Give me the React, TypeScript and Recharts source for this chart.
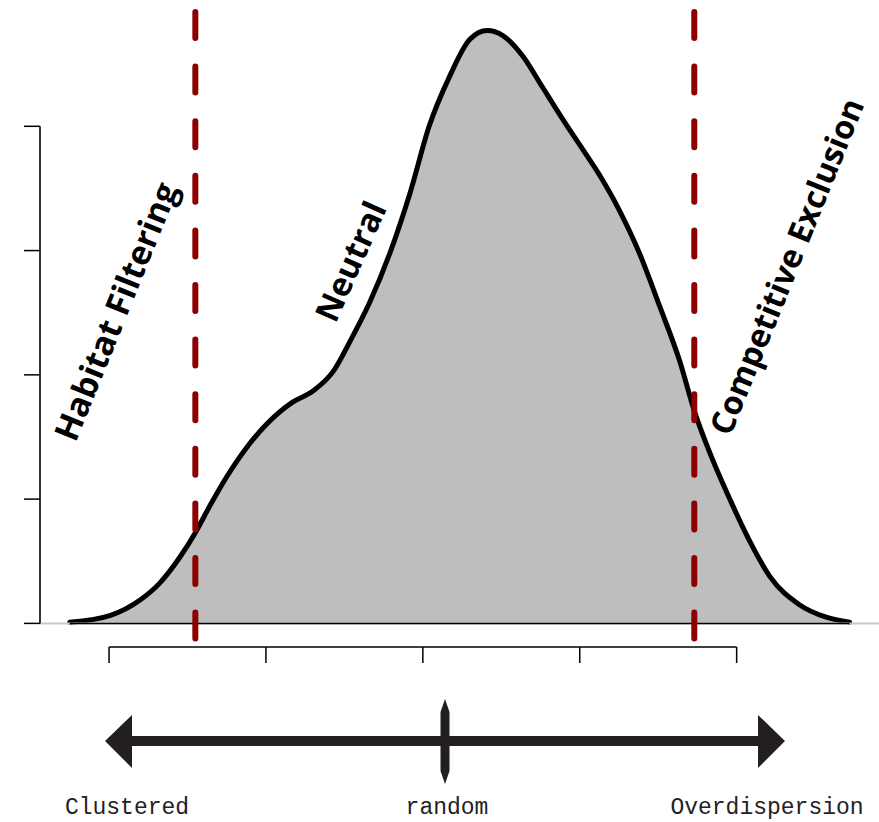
import React from 'react';
import { ComposedChart, Area, XAxis, YAxis, ReferenceLine } from 'recharts';

// Density estimate (x in axis units, y in density units)
const densityX = [-2.25, -1.99, -1.80, -1.68, -1.55, -1.45, -1.36, -1.25, -1.12, -0.99, -0.83, -0.70, -0.57, -0.46, -0.34, -0.21, -0.08, 0.04, 0.17, 0.30, 0.41, 0.51, 0.64, 0.76, 0.89, 1.00, 1.13, 1.25, 1.38, 1.51, 1.64, 1.73, 1.83, 1.96, 2.08, 2.21, 2.40, 2.57, 2.72];
const densityY = [0.01, 0.065, 0.19, 0.32, 0.53, 0.73, 0.94, 1.18, 1.42, 1.61, 1.78, 1.87, 2.03, 2.28, 2.58, 2.98, 3.47, 4.00, 4.40, 4.70, 4.77, 4.73, 4.56, 4.32, 4.06, 3.85, 3.60, 3.33, 2.98, 2.55, 2.10, 1.71, 1.37, 0.99, 0.67, 0.38, 0.15, 0.05, 0.01];

const xTicks = [-2, -1, 0, 1, 2];
const yTicks = [0, 1, 2, 3, 4];
const thresholds = [-1.45, 1.73];
const xDomain: [number, number] = [-2.44, 2.92];
const yDomain: [number, number] = [-0.19, 4.96];

const regionLabels = ['Habitat Filtering', 'Neutral', 'Competitive Exclusion'];
const gradientLabels = ['Clustered', 'random', 'Overdispersion'];

const data = densityX.map((x, i) => ({ x, y: densityY[i] }));

const labelFont = "'Open Sans', 'DejaVu Sans', sans-serif";
const monoFont = "'Liberation Mono', 'DejaVu Sans Mono', monospace";
const blank = () => '';

export default function App() {
  return (
    <div style={{ position: 'absolute', left: 0, top: 0, width: 879, height: 822, overflow: 'hidden', background: '#fff' }}>
      <ComposedChart width={881} height={822} data={data} margin={{ top: 7, right: 0, bottom: 145, left: 0 }}>
        <XAxis
          type="number"
          dataKey="x"
          domain={xDomain}
          ticks={xTicks}
          allowDataOverflow
          tickFormatter={blank}
          tickSize={16}
          axisLine={false}
          tickLine={{ stroke: '#000', strokeWidth: 1.5 }}
          height={30}
        />
        <YAxis
          type="number"
          domain={yDomain}
          ticks={yTicks}
          allowDataOverflow
          tickFormatter={blank}
          tickSize={16}
          axisLine={false}
          tickLine={{ stroke: '#000', strokeWidth: 1.5 }}
          width={40}
        />
        <ReferenceLine y={0} stroke="#c8c8c8" strokeWidth={2} ifOverflow="visible" />
        <Area
          type="monotone"
          dataKey="y"
          baseValue={0}
          stroke="#000"
          strokeWidth={5}
          strokeLinecap="round"
          strokeLinejoin="round"
          fill="#bebebe"
          fillOpacity={1}
          dot={false}
          activeDot={false}
          isAnimationActive={false}
        />
        <ReferenceLine
          segment={[{ x: densityX[0], y: 0 }, { x: densityX[densityX.length - 1], y: 0 }]}
          stroke="#000"
          strokeWidth={1.5}
          ifOverflow="visible"
        />
        <ReferenceLine
          segment={[{ x: xDomain[0], y: yTicks[0] }, { x: xDomain[0], y: yTicks[yTicks.length - 1] }]}
          stroke="#000"
          strokeWidth={1.6}
          ifOverflow="visible"
        />
        <ReferenceLine
          segment={[{ x: xTicks[0], y: yDomain[0] }, { x: xTicks[xTicks.length - 1], y: yDomain[0] }]}
          stroke="#000"
          strokeWidth={1.5}
          ifOverflow="visible"
        />
        {thresholds.map((t) => (
          <ReferenceLine
            key={t}
            segment={[{ x: t, y: yDomain[1] }, { x: t, y: yDomain[0] }]}
            stroke="#8b0000"
            strokeWidth={6}
            strokeDasharray="26 28.6"
            strokeDashoffset={49.6}
            strokeLinecap="round"
            ifOverflow="visible"
          />
        ))}
      </ComposedChart>
      <svg width={879} height={822} style={{ position: 'absolute', left: 0, top: 0, pointerEvents: 'none' }}>
        <text x={115} y={311} transform="rotate(-68 115 311)" textAnchor="middle" dominantBaseline="central" fontFamily={labelFont} fontWeight={700} fontSize={33.5} fill="#000">
          {regionLabels[0]}
        </text>
        <text x={350} y={261} transform="rotate(-66 350 261)" textAnchor="middle" dominantBaseline="central" fontFamily={labelFont} fontWeight={700} fontSize={33} fill="#000">
          {regionLabels[1]}
        </text>
        <text x={786} y={266} transform="rotate(-68 786 266)" textAnchor="middle" dominantBaseline="central" fontFamily={labelFont} fontWeight={700} fontSize={32.5} fill="#000">
          {regionLabels[2]}
        </text>
        <path d="M105,741 L132,715 L132,736 L758,736 L758,715 L785,741 L758,768 L758,746 L132,746 L132,768 Z" fill="#231f20" />
        <polygon points="445,699 449.5,712 449.5,771 445,784 440.5,771 440.5,712" fill="#231f20" />
        <text x={127} y={814} textAnchor="middle" fontFamily={monoFont} fontSize={23} fill="#222">{gradientLabels[0]}</text>
        <text x={447} y={814} textAnchor="middle" fontFamily={monoFont} fontSize={23} fill="#222">{gradientLabels[1]}</text>
        <text x={767} y={814} textAnchor="middle" fontFamily={monoFont} fontSize={23} fill="#222">{gradientLabels[2]}</text>
      </svg>
    </div>
  );
}
